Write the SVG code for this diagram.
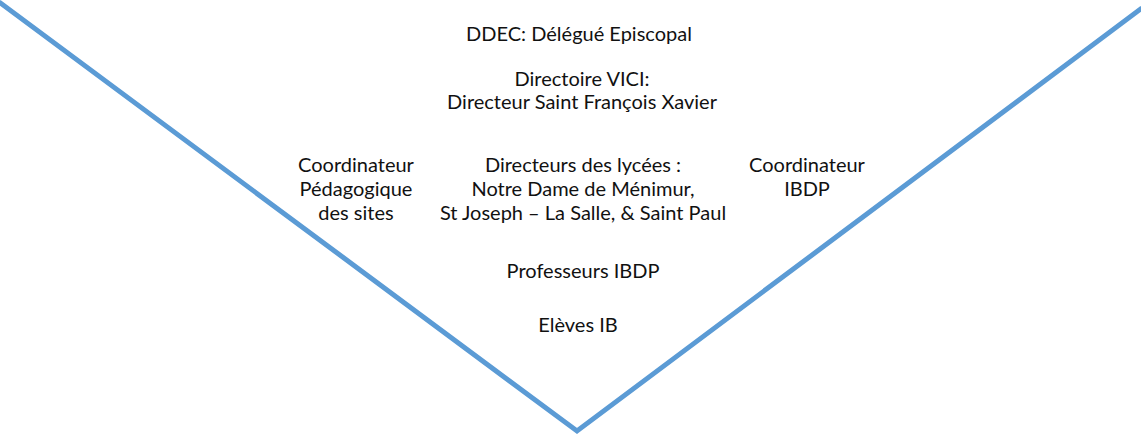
<svg xmlns="http://www.w3.org/2000/svg" width="1141" height="438" viewBox="0 0 1141 438">
<style>
.t{font-family:Lato,"Open Sans","DejaVu Sans",sans-serif;font-size:20px;fill:#111;text-anchor:middle}
.v{fill:none;stroke:#5b9bd5;stroke-width:5;stroke-linejoin:miter}
</style>
<rect width="1141" height="438" fill="#fff"/>
<g id="connectors">
<polyline class="v" points="-1,2 577,431 1142,8"/>
</g>
<g id="ddec"><text class="t" x="579" y="41">DDEC: Délégué Episcopal</text></g>
<g id="vici">
<text class="t" x="582" y="86">Directoire VICI:</text>
<text class="t" x="582" y="109">Directeur Saint François Xavier</text>
</g>
<g id="coord-peda">
<text class="t" x="356" y="172">Coordinateur</text>
<text class="t" x="356" y="196">Pédagogique</text>
<text class="t" x="356" y="220">des sites</text>
</g>
<g id="directeurs">
<text class="t" x="583" y="172">Directeurs des lycées :</text>
<text class="t" x="583" y="196">Notre Dame de Ménimur,</text>
<text class="t" x="583" y="220">St Joseph – La Salle, &amp; Saint Paul</text>
</g>
<g id="coord-ibdp">
<text class="t" x="807" y="172">Coordinateur</text>
<text class="t" x="807" y="196">IBDP</text>
</g>
<g id="professeurs"><text class="t" x="583" y="278">Professeurs IBDP</text></g>
<g id="eleves"><text class="t" x="578" y="332">Elèves IB</text></g>
</svg>
